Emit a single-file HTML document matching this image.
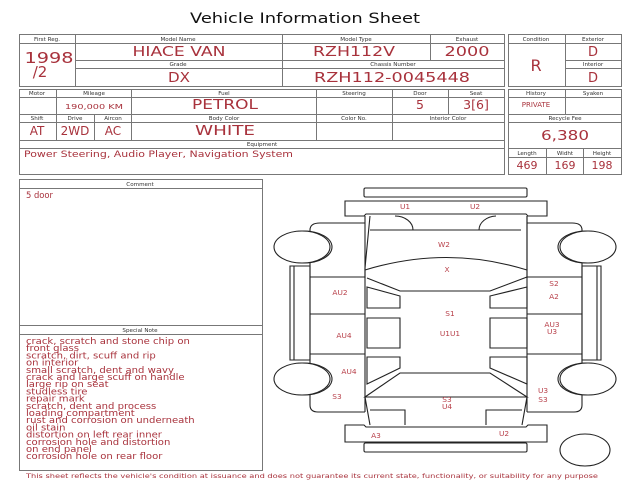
<!DOCTYPE html>
<html><head><meta charset="utf-8"><style>
html,body{margin:0;padding:0;background:#fff;width:640px;height:480px;overflow:hidden}
svg{display:block}
.l{font-family:"DejaVu Sans",sans-serif;font-size:5.6px;fill:#333;text-anchor:middle}
.v{font-family:"DejaVu Sans",sans-serif;fill:#a8323c;text-anchor:middle}
.t{font-family:"DejaVu Sans",sans-serif;fill:#a8323c;font-size:8.4px}
.d{font-family:"DejaVu Sans",sans-serif;fill:#b8404a;font-size:7.4px;text-anchor:middle}
</style></head><body>
<svg width="640" height="480" viewBox="0 0 640 480">
<text x="190" y="23" textLength="230" lengthAdjust="spacingAndGlyphs" style="font-family:'DejaVu Sans',sans-serif;font-size:14.5px;fill:#111">Vehicle Information Sheet</text>
<g stroke="#777" stroke-width="1" fill="none">
<rect x="19.5" y="34.5" width="485" height="52"/>
<line x1="75.5" y1="34" x2="75.5" y2="86"/>
<line x1="19" y1="43.5" x2="504" y2="43.5"/>
<line x1="282.5" y1="34" x2="282.5" y2="86"/>
<line x1="430.5" y1="34" x2="430.5" y2="60"/>
<line x1="75" y1="60.5" x2="504" y2="60.5"/>
<line x1="75" y1="68.5" x2="504" y2="68.5"/>
<rect x="508.5" y="34.5" width="113" height="52"/>
<line x1="565.5" y1="34" x2="565.5" y2="86"/>
<line x1="508" y1="43.5" x2="621" y2="43.5"/>
<line x1="565" y1="60.5" x2="621" y2="60.5"/>
<line x1="565" y1="68.5" x2="621" y2="68.5"/>
<rect x="19.5" y="89.5" width="485" height="85"/>
<line x1="19" y1="97.5" x2="504" y2="97.5"/>
<line x1="19" y1="114.5" x2="504" y2="114.5"/>
<line x1="19" y1="122.5" x2="504" y2="122.5"/>
<line x1="19" y1="140.5" x2="504" y2="140.5"/>
<line x1="19" y1="148.5" x2="504" y2="148.5"/>
<line x1="56.5" y1="89" x2="56.5" y2="140"/>
<line x1="131.5" y1="89" x2="131.5" y2="140"/>
<line x1="94.5" y1="114" x2="94.5" y2="140"/>
<line x1="316.5" y1="89" x2="316.5" y2="140"/>
<line x1="392.5" y1="89" x2="392.5" y2="140"/>
<line x1="448.5" y1="89" x2="448.5" y2="114"/>
<rect x="508.5" y="89.5" width="113" height="85"/>
<line x1="565.5" y1="89" x2="565.5" y2="114"/>
<line x1="508" y1="97.5" x2="621" y2="97.5"/>
<line x1="508" y1="114.5" x2="621" y2="114.5"/>
<line x1="508" y1="122.5" x2="621" y2="122.5"/>
<line x1="508" y1="148.5" x2="621" y2="148.5"/>
<line x1="508" y1="157.5" x2="621" y2="157.5"/>
<line x1="546.5" y1="148" x2="546.5" y2="174"/>
<line x1="583.5" y1="148" x2="583.5" y2="174"/>
<rect x="19.5" y="179.5" width="243" height="291"/>
<line x1="19" y1="188.5" x2="262" y2="188.5"/>
<line x1="19" y1="325.5" x2="262" y2="325.5"/>
<line x1="19" y1="334.5" x2="262" y2="334.5"/>
</g>
<text class="l" x="47" y="41">First Reg.</text>
<text class="l" x="178" y="41">Model Name</text>
<text class="l" x="356" y="41">Model Type</text>
<text class="l" x="467" y="41">Exhaust</text>
<text class="l" x="178" y="66">Grade</text>
<text class="l" x="393" y="66">Chassis Number</text>
<text class="l" x="536" y="41">Condition</text>
<text class="l" x="593" y="41">Exterior</text>
<text class="l" x="593" y="66">Interior</text>
<text class="v" x="49" y="63" font-size="15" textLength="49" lengthAdjust="spacingAndGlyphs">1998</text>
<text class="v" x="40" y="77" font-size="15">/2</text>
<text class="v" x="179" y="56" font-size="13" textLength="93" lengthAdjust="spacingAndGlyphs">HIACE VAN</text>
<text class="v" x="354" y="56" font-size="13" textLength="82" lengthAdjust="spacingAndGlyphs">RZH112V</text>
<text class="v" x="467" y="56" font-size="13" textLength="45" lengthAdjust="spacingAndGlyphs">2000</text>
<text class="v" x="179" y="82" font-size="13" textLength="22" lengthAdjust="spacingAndGlyphs">DX</text>
<text class="v" x="392" y="82" font-size="13" textLength="156" lengthAdjust="spacingAndGlyphs">RZH112-0045448</text>
<text class="v" x="536" y="71" font-size="16">R</text>
<text class="v" x="593" y="56" font-size="13">D</text>
<text class="v" x="593" y="82" font-size="13">D</text>
<text class="l" x="37" y="95">Motor</text>
<text class="l" x="94" y="95">Mileage</text>
<text class="l" x="224" y="95">Fuel</text>
<text class="l" x="354" y="95">Steering</text>
<text class="l" x="420" y="95">Door</text>
<text class="l" x="476" y="95">Seat</text>
<text class="l" x="37" y="120">Shift</text>
<text class="l" x="75" y="120">Drive</text>
<text class="l" x="113" y="120">Aircon</text>
<text class="l" x="224" y="120">Body Color</text>
<text class="l" x="354" y="120">Color No.</text>
<text class="l" x="448" y="120">Interior Color</text>
<text class="l" x="262" y="146">Equipment</text>
<text class="v" x="94" y="109" font-size="7" textLength="58" lengthAdjust="spacingAndGlyphs">190,000 KM</text>
<text class="v" x="225" y="109" font-size="13.5" textLength="66" lengthAdjust="spacingAndGlyphs">PETROL</text>
<text class="v" x="420" y="109" font-size="12.5">5</text>
<text class="v" x="476" y="109" font-size="12.5">3[6]</text>
<text class="v" x="37" y="135" font-size="12">AT</text>
<text class="v" x="75" y="135" font-size="12">2WD</text>
<text class="v" x="113" y="135" font-size="12">AC</text>
<text class="v" x="225" y="135" font-size="13.5" textLength="60" lengthAdjust="spacingAndGlyphs">WHITE</text>
<text class="t" x="24" y="157" font-size="9" textLength="269" lengthAdjust="spacingAndGlyphs">Power Steering, Audio Player, Navigation System</text>
<text class="l" x="536" y="95">History</text>
<text class="l" x="593" y="95">Syaken</text>
<text class="v" x="536" y="107" font-size="7">PRIVATE</text>
<text class="l" x="565" y="120">Recycle Fee</text>
<text class="v" x="565" y="140" font-size="13.5" textLength="48" lengthAdjust="spacingAndGlyphs">6,380</text>
<text class="l" x="527" y="155">Length</text>
<text class="l" x="565" y="155">Widht</text>
<text class="l" x="602" y="155">Height</text>
<text class="v" x="527" y="169" font-size="11">469</text>
<text class="v" x="565" y="169" font-size="11">169</text>
<text class="v" x="602" y="169" font-size="11">198</text>
<text class="l" x="140" y="186">Comment</text>
<text class="t" x="26" y="198">5 door</text>
<text class="l" x="140" y="332">Special Note</text>
<g class="t" transform="translate(26 0) scale(1.2 1)" font-size="8.6">
<text x="0" y="344">crack, scratch and stone chip on</text>
<text x="0" y="351.2">front glass</text>
<text x="0" y="358.4">scratch, dirt, scuff and rip</text>
<text x="0" y="365.6">on interior</text>
<text x="0" y="372.8">small scratch, dent and wavy</text>
<text x="0" y="380">crack and large  scuff on handle</text>
<text x="0" y="387.2">large rip on seat</text>
<text x="0" y="394.4">studless tire</text>
<text x="0" y="401.6">repair mark</text>
<text x="0" y="408.8">scratch, dent and process</text>
<text x="0" y="416">loading compartment</text>
<text x="0" y="423.2">rust and corrosion on underneath</text>
<text x="0" y="430.4">oil stain</text>
<text x="0" y="437.6">distortion on left rear inner</text>
<text x="0" y="444.8">corrosion hole and distortion</text>
<text x="0" y="452">on end panel</text>
<text x="0" y="459.2">corrosion hole on rear floor</text>
</g>
<text x="26" y="478" textLength="572" lengthAdjust="spacingAndGlyphs" style="font-family:'DejaVu Sans',sans-serif;font-size:6.4px;fill:#a8323c">This sheet reflects the vehicle's condition at issuance and does not guarantee its current state, functionality, or suitability for any purpose</text>
<g stroke="#222" stroke-width="1.1" fill="none">
<rect x="364" y="188" width="163" height="9" rx="1.5"/>
<path d="M345 201 H547 V216 H528 L526 214 H366 L364 216 H345 Z"/>
<rect x="364" y="443" width="163" height="9" rx="1.5"/>
<path d="M345 425 H364 L366 427 H526 L528 425 H547 V442 H345 Z"/>
<path d="M370 216 L365 268 L365 278 M527 216 L527 278"/>
<path d="M370 230 H521"/>
<path d="M395 216 A18 14 0 0 1 413 230 M496 216 A18 14 0 0 0 479 230"/>
<path d="M365 270 Q447 245 527 270"/>
<path d="M367 278 L400 291 H490 L527 277"/>
<path d="M367 287 L400 296 V308 H367 Z M367 318 H400 V348 H367 Z M367 357 H400 V368 L367 384 Z"/>
<path d="M527 287 L490 296 V308 H527 Z M527 318 H490 V348 H527 Z M527 357 H490 V368 L527 384 Z"/>
<path d="M400 373 H490 L527 397 H365 Z"/>
<path d="M365 397 L370 425 M527 397 L522 425"/>
<path d="M370 410 H405 V425 M522 410 H486 V425"/>
<path d="M365 216 V412 M527 216 V412"/>
<path d="M365 223 H320 Q310 223 310 230 V405 Q310 412 318 412 H365"/>
<path d="M527 223 H572 Q582 223 582 230 V405 Q582 412 574 412 H527"/>
<path d="M290 266 H310 V360 H290 Z M294 266 V360"/>
<path d="M582 266 H601 V360 H582 Z M597 266 V360"/>
<path d="M310 277 H365 M310 314 H365 M310 354 H365 M527 277 H582 M527 314 H582 M527 354 H582"/>
</g>
<g stroke="#222" stroke-width="1.1" fill="#fff">
<ellipse cx="304" cy="247" rx="28" ry="16"/><ellipse cx="302" cy="247" rx="28" ry="16"/>
<ellipse cx="304" cy="379" rx="28" ry="16"/><ellipse cx="302" cy="379" rx="28" ry="16"/>
<ellipse cx="586" cy="247" rx="28" ry="16"/><ellipse cx="588" cy="247" rx="28" ry="16"/>
<ellipse cx="586" cy="379" rx="28" ry="16"/><ellipse cx="588" cy="379" rx="28" ry="16"/>
<ellipse cx="585" cy="450" rx="25" ry="16"/>
</g>
<g class="d">
<text x="405" y="209">U1</text><text x="475" y="209">U2</text>
<text x="444" y="247">W2</text><text x="447" y="272">X</text>
<text x="340" y="295">AU2</text><text x="344" y="338">AU4</text>
<text x="450" y="316">S1</text><text x="450" y="336">U1U1</text>
<text x="554" y="286">S2</text><text x="554" y="299">A2</text>
<text x="552" y="327">AU3</text><text x="552" y="334">U3</text>
<text x="349" y="374">AU4</text><text x="337" y="399">S3</text>
<text x="543" y="393">U3</text><text x="543" y="402">S3</text>
<text x="447" y="402">S3</text><text x="447" y="409">U4</text>
<text x="376" y="438">A3</text><text x="504" y="436">U2</text>
</g>
</svg>
</body></html>
